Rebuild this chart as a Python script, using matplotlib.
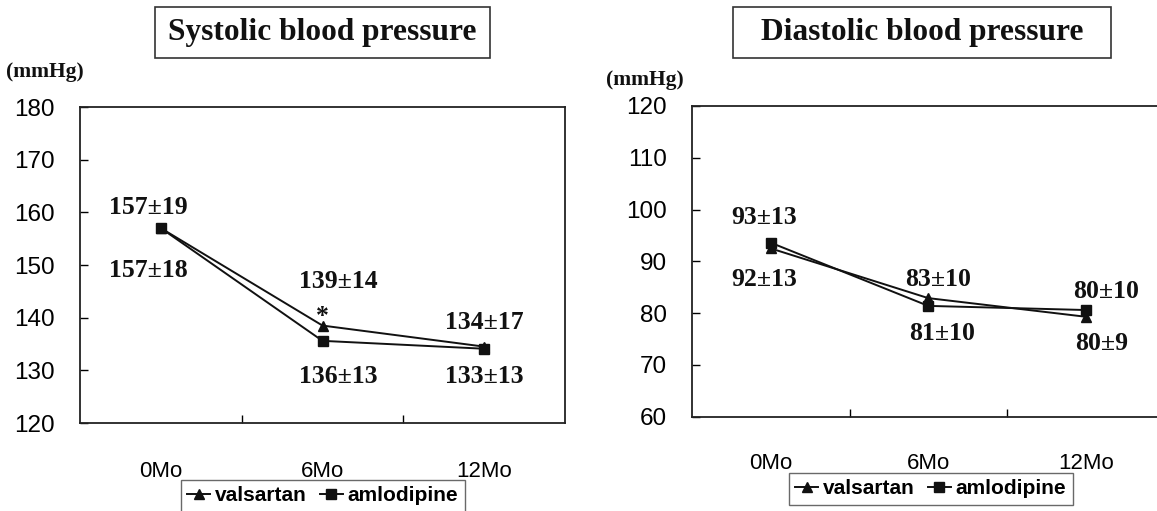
import matplotlib
matplotlib.use("Agg")
import matplotlib.pyplot as plt
from matplotlib.patches import Rectangle
from matplotlib.lines import Line2D

W, H = 1157, 511

months = ["0Mo", "6Mo", "12Mo"]

sys_valsartan = [157, 138.5, 134.5]
sys_amlodipine = [157, 135.6, 134.1]
dia_valsartan = [92.5, 82.9, 79.3]
dia_amlodipine = [93.6, 81.4, 80.6]

sys_labels = ["157±19", "157±18", "139±14", "*", "134±17", "136±13", "133±13"]
dia_labels = ["93±13", "92±13", "83±10", "81±10", "80±10", "80±9"]

# where each label sits (category index, value)
sys_label_pos = [(-0.08, 161.0), (-0.08, 148.9), (1.10, 146.8), (1.00, 140.3),
                 (2.00, 139.0), (1.10, 128.9), (2.00, 128.9)]
dia_label_pos = [(-0.04, 98.5), (-0.04, 86.5), (1.06, 86.5), (1.09, 76.1),
                 (2.13, 84.1), (2.10, 74.2)]

serif = "Liberation Serif"
sans = "Liberation Sans"


def px(x, y):
    return x / W, 1 - y / H


def axes_px(left, top, right, bottom):
    return fig.add_axes([left / W, 1 - bottom / H, (right - left) / W, (bottom - top) / H])


def draw_panel(ax, val, aml, ylim, labels, pos, xpad):
    x = range(len(months))
    ax.plot(x, val, color="#111111", lw=1.4, marker="^", ms=7.5, zorder=3)
    ax.plot(x, aml, color="#111111", lw=1.4, marker="s", ms=7, zorder=3)
    ax.set_xlim(-0.5, 2.5)
    ax.set_ylim(*ylim)
    ax.set_yticks(range(ylim[0], ylim[1] + 1, 10))
    ax.set_xticks(list(x))
    ax.set_xticklabels(months)
    ax.set_xticks([0.5, 1.5], minor=True)
    ax.tick_params(axis="x", which="major", length=0, pad=xpad, labelsize=16)
    ax.tick_params(axis="x", which="minor", direction="in", length=6, width=1)
    ax.tick_params(axis="y", direction="in", length=6, width=1, pad=18, labelsize=17.5)
    for lab in ax.get_xticklabels() + ax.get_yticklabels():
        lab.set_family(sans)
    for sp in ax.spines.values():
        sp.set_linewidth(1.3)
        sp.set_color("#222222")
    for t, (cx, cy) in zip(labels, pos):
        ax.text(cx, cy, t, ha="center", va="center", fontsize=18.5,
                family=serif, fontweight="bold", color="#111111")


def title_box(text, left, top, right, bottom):
    fig.patches.append(Rectangle(px(left, bottom), (right - left) / W, (bottom - top) / H,
                                 transform=fig.transFigure, fill=False,
                                 edgecolor="#333333", lw=1.2))
    cx, cy = px((left + right) / 2, (top + bottom) / 2)
    fig.text(cx, cy, text, ha="center", va="center", fontsize=22.6,
             family=serif, fontweight="bold", color="#111111")


def legend(ax, x, y):
    handles = [Line2D([], [], color="#111111", lw=1.4, marker="^", ms=7),
               Line2D([], [], color="#111111", lw=1.4, marker="s", ms=6.5)]
    lg = fig.legend(handles, ["valsartan", "amlodipine"], loc="upper left",
                    bbox_to_anchor=px(x, y), ncol=2, frameon=True, fancybox=False,
                    handlelength=1.1, handletextpad=0.25, columnspacing=0.6,
                    borderpad=0.3, borderaxespad=0,
                    prop={"family": sans, "weight": "bold", "size": 15})
    lg.get_frame().set_edgecolor("#444444")
    lg.get_frame().set_linewidth(1.0)


fig = plt.figure(figsize=(W / 100, H / 100), dpi=100)

ax1 = axes_px(80, 107, 565, 423)
draw_panel(ax1, sys_valsartan, sys_amlodipine, (120, 180), sys_labels, sys_label_pos, 27)

ax2 = axes_px(692, 106, 1164.5, 416.7)
draw_panel(ax2, dia_valsartan, dia_amlodipine, (60, 120), dia_labels, dia_label_pos, 26)
ax2.spines["right"].set_visible(False)

title_box("Systolic blood pressure", 155, 7, 490, 58)
title_box("Diastolic blood pressure", 733, 7, 1111, 58)

fig.text(*px(45, 72), "(mmHg)", ha="center", va="center", fontsize=15.5,
         family=serif, fontweight="bold", color="#111111")
fig.text(*px(645, 80), "(mmHg)", ha="center", va="center", fontsize=15.5,
         family=serif, fontweight="bold", color="#111111")

legend(ax1, 181, 480)
legend(ax2, 789, 473)

fig.savefig("out.png", dpi=100)
